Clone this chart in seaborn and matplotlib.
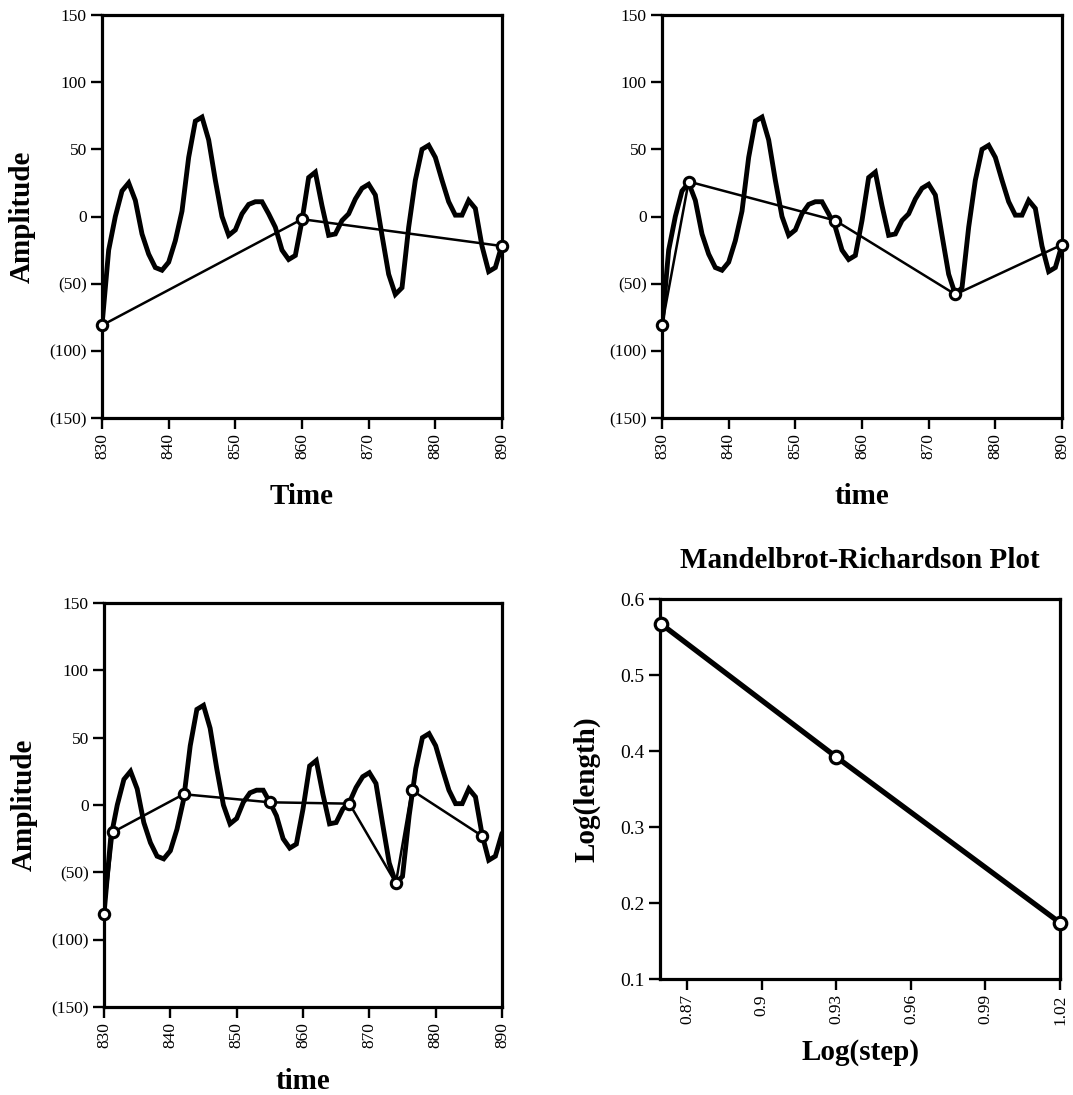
import numpy as np
import pandas as pd
import matplotlib
matplotlib.use("Agg")
import matplotlib.pyplot as plt
import seaborn as sns

# ---------------- data ----------------
time = list(range(830, 891))
amplitude = [-81, -25, 0, 19, 25, 12, -13, -28, -38, -40,
             -34, -18, 4, 44, 71, 74, 57, 27, 0, -14,
             -10, 2, 9, 11, 11, 2, -8, -25, -32, -29,
             -3, 29, 33, 8, -14, -13, -3, 2, 13, 21,
             24, 16, -14, -43, -58, -53, -8, 27, 50, 53,
             44, 27, 11, 1, 1, 12, 6, -22, -41, -38,
             -21]

walk1_t = [830, 860, 890]
walk1_v = [-81, -2, -22]
walk2_t = [830, 834, 856, 874, 890]
walk2_v = [-81, 26, -3, -58, -21]
walk3_t = [830, 831.4, 842, 855, 867, 874, 876.4, 887]
walk3_v = [-81, -20, 8, 2, 1, -58, 11, -23]

amp_ticks = [150, 100, 50, 0, -50, -100, -150]
amp_tick_labels = ["150", "100", "50", "0", "(50)", "(100)", "(150)"]
time_ticks = [830, 840, 850, 860, 870, 880, 890]
time_tick_labels = ["830", "840", "850", "860", "870", "880", "890"]

log_step = [0.8595, 0.93, 1.02]
log_length = [0.567, 0.392, 0.174]
step_ticks = [0.87, 0.90, 0.93, 0.96, 0.99, 1.02]
step_tick_labels = ["0.87", "0.9", "0.93", "0.96", "0.99", "1.02"]
length_ticks = [0.1, 0.2, 0.3, 0.4, 0.5, 0.6]
length_tick_labels = ["0.1", "0.2", "0.3", "0.4", "0.5", "0.6"]

# ---------------- style ----------------
sns.set_style("ticks")
plt.rcParams["font.family"] = ["Liberation Serif", "DejaVu Serif"]
plt.rcParams["text.color"] = "black"
plt.rcParams["axes.labelcolor"] = "black"
plt.rcParams["axes.linewidth"] = 2.3

W, H = 1073, 1095
fig = plt.figure(figsize=(W / 100, H / 100), dpi=100)


def add_ax(left, right, top, bottom):
    return fig.add_axes([left / W, 1 - bottom / H, (right - left) / W, (bottom - top) / H])


def style_ax(ax):
    for s in ax.spines.values():
        s.set_visible(True)
        s.set_linewidth(2.3)
        s.set_color("black")
    ax.tick_params(axis="both", direction="out", length=8, width=1.7,
                   color="black", labelcolor="black", labelsize=12.5, pad=3)
    ax.tick_params(axis="x", labelrotation=90)
    ax.grid(False)


def time_panel(ax, wt, wv, xlabel, ylabel):
    df = pd.DataFrame({"time": time, "amp": amplitude})
    sns.lineplot(data=df, x="time", y="amp", ax=ax, color="black",
                 linewidth=3.5, solid_joinstyle="miter", zorder=3)
    dw = pd.DataFrame({"t": wt, "v": wv})
    sns.lineplot(data=dw, x="t", y="v", ax=ax, color="black", linewidth=1.8,
                 marker="o", markersize=7.5, markerfacecolor="white",
                 markeredgecolor="black", markeredgewidth=2.2,
                 zorder=5, clip_on=False)
    ax.set_xlim(830, 890)
    ax.set_ylim(-150, 150)
    ax.set_yticks(amp_ticks)
    ax.set_yticklabels(amp_tick_labels)
    ax.set_xticks(time_ticks)
    ax.set_xticklabels(time_tick_labels)
    style_ax(ax)
    ax.set_xlabel(xlabel, fontsize=21, fontweight="bold", labelpad=17, color="black")
    ax.set_ylabel(ylabel, fontsize=21, fontweight="bold", labelpad=10, color="black")


ax1 = add_ax(102, 502, 15, 418)
time_panel(ax1, walk1_t, walk1_v, "Time", "Amplitude")

ax2 = add_ax(662, 1062, 15, 418)
time_panel(ax2, walk2_t, walk2_v, "time", "")

ax3 = add_ax(104, 502, 603, 1007)
time_panel(ax3, walk3_t, walk3_v, "time", "Amplitude")
ax3.xaxis.labelpad = 14

ax4 = add_ax(660, 1060, 599, 979)
dm = pd.DataFrame({"step": log_step, "length": log_length})
sns.lineplot(data=dm, x="step", y="length", ax=ax4, color="black", linewidth=3.8,
             marker="o", markersize=9, markerfacecolor="white",
             markeredgecolor="black", markeredgewidth=2.3, zorder=5, clip_on=False)
ax4.set_xlim(0.859, 1.02)
ax4.set_ylim(0.1, 0.6)
ax4.set_xticks(step_ticks)
ax4.set_xticklabels(step_tick_labels)
ax4.set_yticks(length_ticks)
ax4.set_yticklabels(length_tick_labels)
style_ax(ax4)
ax4.tick_params(axis="y", labelsize=14)
ax4.set_xlabel("Log(step)", fontsize=21, fontweight="bold", labelpad=10, color="black")
ax4.set_ylabel("Log(length)", fontsize=21, fontweight="bold", labelpad=14, color="black")
ax4.set_title("Mandelbrot-Richardson Plot", fontsize=21, fontweight="bold", pad=22, color="black")

fig.savefig("out.png", dpi=100, facecolor="white")
